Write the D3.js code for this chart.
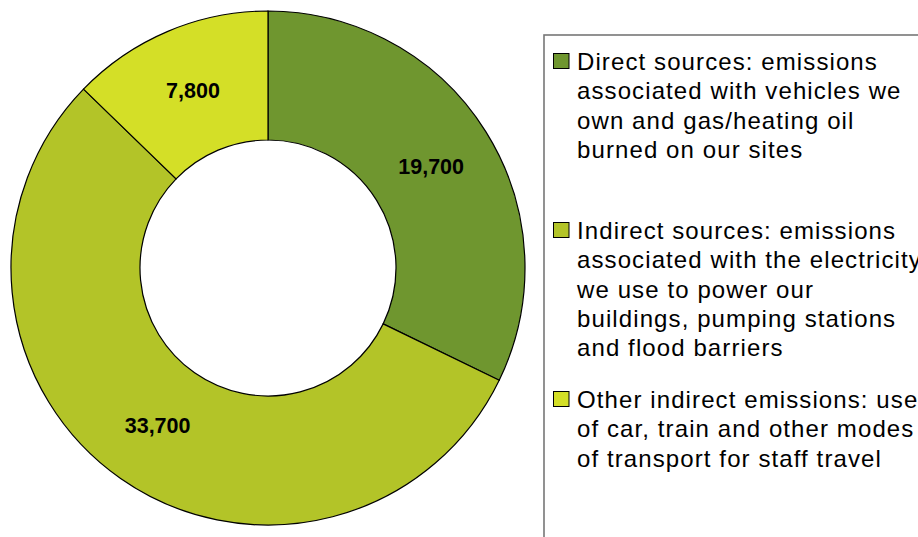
<!DOCTYPE html>
<html>
<head>
<meta charset="utf-8">
<script src="https://cdn.jsdelivr.net/npm/d3@7"></script>
<style>
  html, body { margin: 0; padding: 0; background: #fff; }
  svg { display: block; }
</style>
</head>
<body>
<svg id="chart" width="918" height="537"></svg>
<script>
const categories = [
  "Direct sources: emissions associated with vehicles we own and gas/heating oil burned on our sites",
  "Indirect sources: emissions associated with the electricity we use to power our buildings, pumping stations and flood barriers",
  "Other indirect emissions: use of car, train and other modes of transport for staff travel"
];
const values = [19700, 33700, 7800];
const legendLines = [
  ["Direct sources: emissions", "associated with vehicles we", "own and gas/heating oil", "burned on our sites"],
  ["Indirect sources: emissions", "associated with the electricity", "we use to power our", "buildings, pumping stations", "and flood barriers"],
  ["Other indirect emissions: use", "of car, train and other modes", "of transport for staff travel"]
];
const colors = ["#6F962F", "#B3C428", "#D4DF27"];

const svg = d3.select("#chart");
const cx = 268, cy = 268, outerR = 257, innerR = 128;
const FONT = "'Liberation Sans', Arial, sans-serif";

const pie = d3.pie().sort(null).value(d => d)(values);
const arc = d3.arc().innerRadius(innerR).outerRadius(outerR);
const labelArc = d3.arc().innerRadius((innerR + outerR) / 2).outerRadius((innerR + outerR) / 2);
const color = d3.scaleOrdinal().domain(d3.range(values.length)).range(colors);

const g = svg.append("g").attr("transform", `translate(${cx},${cy})`);
g.selectAll("path.slice").data(pie).join("path")
  .attr("class", "slice")
  .attr("d", arc)
  .attr("fill", (d, i) => color(i))
  .attr("stroke", "#000")
  .attr("stroke-width", 1.2);

const fmt = d3.format(",");
g.selectAll("text.lbl").data(pie).join("text")
  .attr("class", "lbl")
  .attr("transform", d => `translate(${labelArc.centroid(d)})`)
  .attr("text-anchor", "middle")
  .attr("dy", "0.36em")
  .attr("font-family", FONT)
  .attr("font-weight", "bold")
  .attr("font-size", 21.5)
  .attr("fill", "#000")
  .text(d => fmt(d.data));

// Legend
const legend = svg.append("g");
legend.append("rect")
  .attr("x", 544).attr("y", 35)
  .attr("width", 420).attr("height", 560)
  .attr("fill", "#fff")
  .attr("stroke", "#777")
  .attr("stroke-width", 1.6);

const entryBase = [70, 239, 408];
const lineH = 29.3;
legendLines.forEach((lines, i) => {
  const base = entryBase[i];
  legend.append("rect")
    .attr("x", 553.5).attr("y", base - 16.5)
    .attr("width", 15.5).attr("height", 15)
    .attr("fill", color(i))
    .attr("stroke", "#000")
    .attr("stroke-width", 1);
  const t = legend.append("text")
    .attr("font-family", FONT)
    .attr("font-size", 24)
    .attr("letter-spacing", 1.1)
    .attr("fill", "#000");
  lines.forEach((ln, j) => {
    t.append("tspan").attr("x", 577).attr("y", base + j * lineH).text(ln);
  });
});
</script>
</body>
</html>
